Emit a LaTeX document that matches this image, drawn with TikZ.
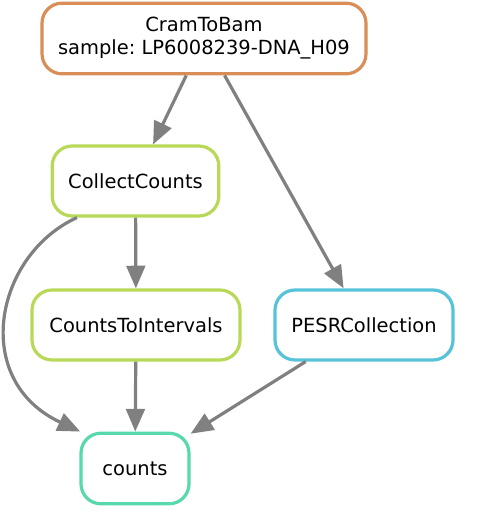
\documentclass[tikz,border=0pt]{standalone}
\usepackage{fontspec}
\setmainfont{DejaVu Sans}
\usetikzlibrary{arrows.meta}
\frenchspacing
\definecolor{corange}{RGB}{217,141,87}
\definecolor{cgreen}{RGB}{184,217,87}
\definecolor{ccyan}{RGB}{87,195,217}
\definecolor{cteal}{RGB}{87,217,173}
\definecolor{cedge}{RGB}{128,128,128}
\begin{document}
\begin{tikzpicture}[x=0.75pt,y=-0.75pt,
  rule/.style={draw, line width=2.4pt, rounded corners=15pt, fill=white,
    align=center, font=\fontsize{14.6}{17.3}\selectfont, inner sep=0pt, minimum height=52.5pt},
  edge/.style={draw=cedge, line width=2.4pt, -{Triangle[length=17pt,width=14pt]}, fill=none}]
\useasboundingbox (0,0) rectangle (476,523);
\node[rule, draw=corange, minimum width=243pt, minimum height=53pt] (ctb) at (204,38.5) {CramToBam\\sample:\ LP6008239-DNA\_H09};
\node[rule, draw=cgreen, minimum width=125pt] (cc) at (135.5,181) {CollectCounts};
\node[rule, draw=cgreen, minimum width=156pt] (cti) at (136,325) {CountsToIntervals};
\node[rule, draw=ccyan, minimum width=133.5pt] (pesr) at (364,325) {PESRCollection};
\node[rule, draw=cteal, minimum width=81pt, minimum height=53pt] (cnt) at (135,468.5) {counts};
\draw[edge] (ctb) -- (cc);
\draw[edge] (ctb) -- (pesr);
\draw[edge] (cc) -- (cti);
\draw[edge] (cti) -- (cnt);
\draw[edge] (pesr) -- (cnt);
\draw[edge] (cc.212) .. controls (-5,255) and (-30,380) .. (cnt.146);
\end{tikzpicture}
\end{document}
